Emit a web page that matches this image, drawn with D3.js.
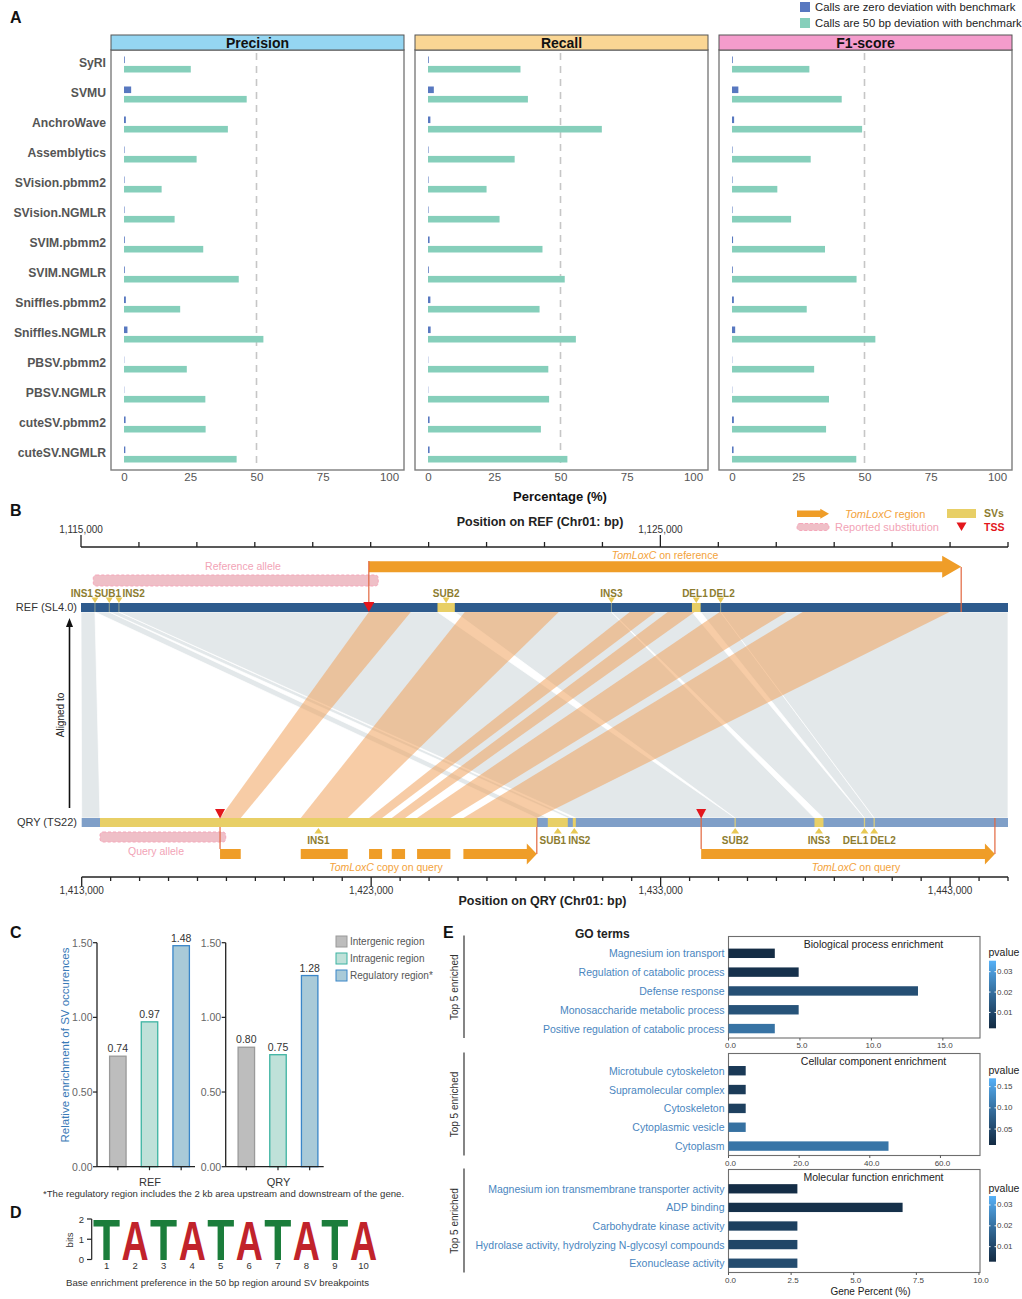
<!DOCTYPE html>
<html><head><meta charset="utf-8">
<script src="https://cdn.jsdelivr.net/npm/d3@7"></script>
<style>body{margin:0;background:#fff}svg{display:block}</style>
</head><body>
<script>
// ================= DATA =================
// Panel A
const tools = ["SyRI","SVMU","AnchroWave","Assemblytics","SVision.pbmm2","SVision.NGMLR","SVIM.pbmm2","SVIM.NGMLR","Sniffles.pbmm2","Sniffles.NGMLR","PBSV.pbmm2","PBSV.NGMLR","cuteSV.pbmm2","cuteSV.NGMLR"];
const metricNames = ["Precision","Recall","F1-score"];
const seriesKeys = ["zero","fifty"];
const seriesNames = ["Calls are zero deviation with benchmark","Calls are 50 bp deviation with benchmark"];
const precisionZero = [0.3,2.7,0.7,0.2,0.2,0.2,0.3,0.3,0.7,1.3,0.1,0.1,0.6,0.5];
const precision50   = [25.2,46.3,39.2,27.4,14.2,19.1,29.9,43.3,21.2,52.6,23.7,30.7,30.8,42.5];
const recallZero    = [0.3,2.2,0.9,0.2,0.2,0.2,0.6,0.3,0.9,1.0,0.1,0.1,0.6,0.6];
const recall50      = [34.9,37.7,65.6,32.7,22.1,27.0,43.2,51.6,42.1,55.8,45.4,45.7,42.6,52.6];
const f1Zero        = [0.3,2.4,0.8,0.2,0.2,0.2,0.4,0.3,0.7,1.2,0.1,0.1,0.7,0.6];
const f150          = [29.2,41.4,49.1,29.7,17.1,22.3,35.1,47.0,28.2,54.1,31.0,36.6,35.5,46.9];
const pctTicks = [0,25,50,75,100];
const refLine = 50;

// Panel B (genomic coordinates, bp)
const refDomain = [1115000,1131000];
const qryDomain = [1413000,1445000];
const refMajorTicks = [1115000,1125000];
const qryMajorTicks = [1413000,1423000,1433000,1443000];
const refSVs = [
  {name:"INS1",start:1115241,end:1115241},
  {name:"SUB1",start:1115488,end:1115488},
  {name:"INS2",start:1115655,end:1115655},
  {name:"SUB2",start:1121153,end:1121452},
  {name:"INS3",start:1124155,end:1124155},
  {name:"DEL1",start:1125545,end:1125695},
  {name:"DEL2",start:1126040,end:1126040}];
const qrySVs = [
  {name:"INS1",start:1413632,end:1428722},
  {name:"SUB1",start:1429102,end:1429793},
  {name:"INS2",start:1429966,end:1430070},
  {name:"SUB2",start:1435574,end:1435574},
  {name:"INS3",start:1438314,end:1438625},
  {name:"DEL1",start:1440042,end:1440042},
  {name:"DEL2",start:1440377,end:1440377}];
const refGene = [1119968,1130192];
const qryGene = [1434400,1444548];
const refTSS = [1119968];
const qryTSS = [1417779,1434400];
const refAllele = [1115212,1120130];
const qryAllele = [1413632,1417976];
const qryCopyBlocks = [[1417779,1418494],[1420567,1422191],[1422927,1423377],[1423712,1424171],[1424586,1425737],[1426186,1428722]];
// [refStart, refEnd, qryStart, qryEnd]
const grayBlocks = [
  [1115000,1115241,1413000,1413632],
  [1115241,1115488,1428722,1429102],
  [1115488,1115655,1429793,1429966],
  [1115655,1121153,1430070,1435574],
  [1121452,1124155,1435574,1438314],
  [1124155,1125545,1438625,1440042],
  [1125695,1126040,1440042,1440377],
  [1126040,1131000,1440377,1445000]];
const orangeBlocks = [
  [1119968,1120693,1417779,1418494],
  [1121624,1123246,1420567,1422191],
  [1124471,1124919,1422927,1423377],
  [1125126,1125592,1423712,1424171],
  [1126023,1127179,1424586,1425737],
  [1127455,1129991,1426186,1428722]];

// Panel C
const regions = ["Intergenic region","Intragenic region","Regulatory region*"];
const genomes = ["REF","QRY"];
const refEnrichment = [0.74,0.97,1.48];
const qryEnrichment = [0.80,0.75,1.28];
const enrichTicks = [0,0.5,1.0,1.5];

// Panel D
const logoLetters = ["T","A","T","A","T","A","T","A","T","A"];
const logoBits = [1.95,1.9,1.95,1.9,1.95,1.9,1.95,1.9,1.95,1.9];
const bitTicks = [0,1,2];

// Panel E
const goTitles = ["Biological process enrichment","Cellular component enrichment","Molecular function enrichment"];
const bpTerms = ["Magnesium ion transport","Regulation of catabolic process","Defense response","Monosaccharide metabolic process","Positive regulation of catabolic process"];
const bpPercent = [3.24,4.91,13.26,4.91,3.24];
const bpPvalue = [0.0025,0.0040,0.0120,0.0130,0.0210];
const ccTerms = ["Microtubule cytoskeleton","Supramolecular complex","Cytoskeleton","Cytoplasmic vesicle","Cytoplasm"];
const ccPercent = [4.87,4.87,4.87,4.87,45.3];
const ccPvalue = [0.031,0.033,0.040,0.099,0.104];
const mfTerms = ["Magnesium ion transmembrane transporter activity","ADP binding","Carbohydrate kinase activity","Hydrolase activity, hydrolyzing N-glycosyl compounds","Exonuclease activity"];
const mfPercent = [2.75,6.95,2.75,2.75,2.75];
const mfPvalue = [0.0034,0.0041,0.0082,0.0097,0.0113];
const bpTicks = [0,5,10,15];
const ccTicks = [0,20,40,60];
const mfTicks = [0,2.5,5,7.5,10];
const bpXMax = 17.6, ccXMax = 71.2, mfXMax = 10.04;
const bpPRange = [0.0022,0.0354], ccPRange = [0.0123,0.1698], mfPRange = [0.0028,0.0343];
const bpPTicks = [0.01,0.02,0.03], ccPTicks = [0.05,0.10,0.15], mfPTicks = [0.01,0.02,0.03];

// ================= DRAW =================
const FONT = '"Liberation Sans", Arial, Helvetica, sans-serif';
const svg = d3.select("body").append("svg").attr("width",1022).attr("height",1299)
  .attr("font-family",FONT);
svg.append("rect").attr("width",1022).attr("height",1299).attr("fill","#fff");

function txt(g,x,y,s,o={}){
  const t=g.append("text").attr("x",x).attr("y",y).text(s)
    .attr("font-size",o.size||10).attr("fill",o.fill||"#222")
    .attr("text-anchor",o.anchor||"start").attr("dominant-baseline","central");
  if(o.bold) t.attr("font-weight","bold");
  if(o.italic) t.attr("font-style","italic");
  if(o.rotate) t.attr("transform",`rotate(${o.rotate},${x},${y})`);
  return t;
}
function geneText(g,x,y,suffix,o={}){
  const t=g.append("text").attr("x",x).attr("y",y).attr("font-size",o.size||10.5)
    .attr("fill",o.fill||"#f3a23a").attr("text-anchor",o.anchor||"middle").attr("dominant-baseline","central");
  t.append("tspan").attr("font-style","italic").text("TomLoxC");
  t.append("tspan").text(suffix);
  return t;
}
function arrowPts(x0,x1,yc,bh,hh,hl){
  return [[x0,yc-bh/2],[x1-hl,yc-bh/2],[x1-hl,yc-hh/2],[x1,yc],[x1-hl,yc+hh/2],[x1-hl,yc+bh/2],[x0,yc+bh/2]].map(p=>p.join(",")).join(" ");
}
function placeLabels(xs,ws,pad){
  const pos=xs.slice();
  for(let it=0;it<200;it++){
    let moved=false;
    for(let i=1;i<pos.length;i++){
      const need=(ws[i-1]+ws[i])/2+pad, gap=pos[i]-pos[i-1];
      if(gap<need-0.01){const d=(need-gap)/2;pos[i-1]-=d;pos[i]+=d;moved=true;}
    }
    if(!moved)break;
  }
  return pos;
}

// ---------- PANEL A ----------
const gA=svg.append("g");
txt(gA,10,17,"A",{size:16,bold:true,fill:"#111"});
const zeroSeries=[precisionZero,recallZero,f1Zero];
const fiftySeries=[precision50,recall50,f150];
const seriesColor={zero:"#5878c0",fifty:"#86cfbb"};
const facetLeft=[111,415,719], facetW=293;
const facetFill=["#95d6f2","#fad694","#f49ccc"];
const rowBand=d3.scaleBand().domain(tools).range([50,470]);
const subBand=d3.scaleBand().domain(seriesKeys).range([-8.5,7.5]).paddingInner(0.3);
metricNames.forEach((m,i)=>{
  const L=facetLeft[i];
  const x=d3.scaleLinear().domain([0,100]).range([L+13,L+278]);
  gA.append("rect").attr("x",L).attr("y",50).attr("width",facetW).attr("height",420)
    .attr("fill","none").attr("stroke","#7d7d7d").attr("stroke-width",1.4);
  gA.append("rect").attr("x",L).attr("y",35).attr("width",facetW).attr("height",15)
    .attr("fill",facetFill[i]).attr("stroke","#555").attr("stroke-width",1);
  txt(gA,L+facetW/2,43,m,{size:14,bold:true,anchor:"middle",fill:"#111"});
  gA.append("line").attr("x1",x(refLine)).attr("x2",x(refLine)).attr("y1",53).attr("y2",468)
    .attr("stroke","#c6c6c6").attr("stroke-width",1.6).attr("stroke-dasharray","7,6");
  const rows=tools.map((t,j)=>({t,zero:zeroSeries[i][j],fifty:fiftySeries[i][j]}));
  seriesKeys.forEach(k=>{
    gA.selectAll(null).data(rows).join("rect")
      .attr("x",x(0)).attr("y",d=>rowBand(d.t)+rowBand.bandwidth()/2+subBand(k))
      .attr("width",d=>x(d[k])-x(0)).attr("height",subBand.bandwidth())
      .attr("fill",seriesColor[k]);
  });
  const ax=gA.append("g").attr("transform","translate(0,470)")
    .call(d3.axisBottom(x).tickValues(pctTicks).tickSize(0).tickPadding(3));
  ax.attr("font-family",FONT);
  ax.select(".domain").remove();
  ax.selectAll("text").attr("font-size",11.5).attr("fill","#555");
  if(i===0){
    tools.forEach(t=>txt(gA,106,rowBand(t)+rowBand.bandwidth()/2-2,t,{size:12.2,bold:true,anchor:"end",fill:"#555"}));
  }
});
txt(gA,560,496,"Percentage (%)",{size:13,bold:true,anchor:"middle",fill:"#111"});
seriesKeys.forEach((k,i)=>{
  gA.append("rect").attr("x",800).attr("y",2+16*i).attr("width",10).attr("height",10).attr("fill",seriesColor[k]);
  txt(gA,815,7+16*i,seriesNames[i],{size:11.3,fill:"#222"});
});

// ---------- PANEL B ----------
const gB=svg.append("g");
txt(gB,10,510,"B",{size:16,bold:true,fill:"#111"});
const refX=d3.scaleLinear().domain(refDomain).range([81,1008]);
const qryX=d3.scaleLinear().domain(qryDomain).range([81.7,1008]);
const REF_Y0=603, REF_Y1=612, QRY_Y0=818, QRY_Y1=827;
const ORANGE="#ef9d28", YELLOW="#e8cf66", OLIVE="#8c7c2f", PINKTXT="#f2a3b6", RED="#e3161c", TSSLINE="#e2673f";

function ribbon(b){return [[refX(b[0]),REF_Y1],[refX(b[1]),REF_Y1],[qryX(b[3]),QRY_Y0],[qryX(b[2]),QRY_Y0]].map(p=>p.join(",")).join(" ");}
gB.selectAll(null).data(grayBlocks).join("polygon").attr("points",ribbon)
  .attr("fill","#e3e8ea").attr("stroke","#fff").attr("stroke-width",0.7);
gB.selectAll(null).data(orangeBlocks).join("polygon").attr("points",ribbon)
  .attr("fill","#f0a25c").attr("fill-opacity",0.55);

// REF axis (top)
const refAxisY=547;
gB.append("line").attr("x1",refX(refDomain[0])).attr("x2",refX(refDomain[1])).attr("y1",refAxisY).attr("y2",refAxisY).attr("stroke","#222").attr("stroke-width",1.3);
gB.selectAll(null).data(d3.range(refDomain[0],refDomain[1]+1,1000)).join("line")
  .attr("x1",d=>refX(d)).attr("x2",d=>refX(d)).attr("y1",refAxisY)
  .attr("y2",d=>refMajorTicks.includes(d)?refAxisY-12:refAxisY-5).attr("stroke","#222").attr("stroke-width",1.3);
refMajorTicks.forEach(v=>txt(gB,refX(v),529,d3.format(",")(v),{size:10,anchor:"middle",fill:"#333"}));
txt(gB,540,522,"Position on REF (Chr01: bp)",{size:12.5,bold:true,anchor:"middle",fill:"#222"});

// QRY axis (bottom)
const qryAxisY=877;
gB.append("line").attr("x1",qryX(qryDomain[0])).attr("x2",qryX(qryDomain[1])).attr("y1",qryAxisY).attr("y2",qryAxisY).attr("stroke","#222").attr("stroke-width",1.3);
gB.selectAll(null).data(d3.range(qryDomain[0],qryDomain[1]+1,1000)).join("line")
  .attr("x1",d=>qryX(d)).attr("x2",d=>qryX(d)).attr("y1",qryAxisY)
  .attr("y2",d=>qryMajorTicks.includes(d)?qryAxisY+10:qryAxisY+4).attr("stroke","#222").attr("stroke-width",1.3);
qryMajorTicks.forEach(v=>txt(gB,qryX(v),890,d3.format(",")(v),{size:10,anchor:"middle",fill:"#333"}));
txt(gB,542.5,901,"Position on QRY (Chr01: bp)",{size:12.5,bold:true,anchor:"middle",fill:"#222"});

// chromosome bars
gB.append("rect").attr("x",refX(refDomain[0])).attr("y",REF_Y0).attr("width",refX(refDomain[1])-refX(refDomain[0])).attr("height",REF_Y1-REF_Y0).attr("fill","#2e5b8d");
gB.append("rect").attr("x",qryX(qryDomain[0])).attr("y",QRY_Y0).attr("width",qryX(qryDomain[1])-qryX(qryDomain[0])).attr("height",QRY_Y1-QRY_Y0).attr("fill","#7f9fc8");
txt(gB,77,607,"REF (SL4.0)",{size:11,anchor:"end",fill:"#333"});
txt(gB,77,822,"QRY (TS22)",{size:11,anchor:"end",fill:"#333"});

// Aligned to arrow
gB.append("line").attr("x1",69.5).attr("x2",69.5).attr("y1",808).attr("y2",626).attr("stroke","#111").attr("stroke-width",1.6);
gB.append("polygon").attr("points","66,627 73,627 69.5,618").attr("fill","#111");
txt(gB,60,715,"Aligned to",{size:10,anchor:"middle",fill:"#222",rotate:-90});

// alleles (reported substitution)
function alleleRect(x0,x1,y0,h){
  gB.append("rect").attr("x",x0).attr("y",y0).attr("width",x1-x0).attr("height",h).attr("rx",3)
    .attr("fill","#efbfc7").attr("stroke","#f5a7ba").attr("stroke-dasharray","3,2").attr("stroke-width",1);
}
alleleRect(refX(refAllele[0]),refX(refAllele[1]),575,11);
txt(gB,243,566,"Reference allele",{size:10.5,anchor:"middle",fill:PINKTXT});
alleleRect(qryX(qryAllele[0]),qryX(qryAllele[1]),832,10);
txt(gB,156,851,"Query allele",{size:10.5,anchor:"middle",fill:PINKTXT});

// REF gene arrow
gB.append("polygon").attr("points",arrowPts(refX(refGene[0]),refX(refGene[1]),566.7,11,22,19)).attr("fill",ORANGE);
geneText(gB,(refX(refGene[0])+refX(refGene[1]))/2,555," on reference",{size:10.5});
gB.append("line").attr("x1",refX(refGene[0])).attr("x2",refX(refGene[0])).attr("y1",561).attr("y2",603).attr("stroke",TSSLINE).attr("stroke-width",1.2);
gB.append("line").attr("x1",refX(refGene[1])).attr("x2",refX(refGene[1])).attr("y1",567).attr("y2",REF_Y1).attr("stroke",TSSLINE).attr("stroke-width",1.2);

// QRY gene copy blocks
qryCopyBlocks.forEach((b,i)=>{
  if(i<qryCopyBlocks.length-1){
    gB.append("rect").attr("x",qryX(b[0])).attr("y",849).attr("width",qryX(b[1])-qryX(b[0])).attr("height",10).attr("fill",ORANGE);
  } else {
    gB.append("polygon").attr("points",arrowPts(qryX(b[0]),qryX(b[1]),854,10,21,10)).attr("fill",ORANGE);
  }
});
geneText(gB,386,867," copy on query",{size:10.5});
gB.append("polygon").attr("points",arrowPts(qryX(qryGene[0]),qryX(qryGene[1]),854,10,21,10)).attr("fill",ORANGE);
geneText(gB,856,867," on query",{size:10.5});
[qryCopyBlocks[0][0],qryGene[0]].forEach(v=>gB.append("line").attr("x1",qryX(v)).attr("x2",qryX(v)).attr("y1",QRY_Y0).attr("y2",849).attr("stroke",TSSLINE).attr("stroke-width",1.2));
[qryCopyBlocks[qryCopyBlocks.length-1][1],qryGene[1]].forEach(v=>gB.append("line").attr("x1",qryX(v)).attr("x2",qryX(v)).attr("y1",QRY_Y0).attr("y2",854).attr("stroke",TSSLINE).attr("stroke-width",1.2));

// SVs on REF
refSVs.forEach(d=>{
  if(d.end>d.start){
    gB.append("rect").attr("x",refX(d.start)).attr("y",REF_Y0).attr("width",refX(d.end)-refX(d.start)).attr("height",REF_Y1-REF_Y0).attr("fill",YELLOW);
  } else {
    gB.append("line").attr("x1",refX(d.start)).attr("x2",refX(d.start)).attr("y1",REF_Y0).attr("y2",REF_Y1).attr("stroke","#8e9c8c").attr("stroke-width",1);
  }
  const cx=refX((d.start+d.end)/2);
  gB.append("polygon").attr("points",`${cx-3.5},597.5 ${cx+3.5},597.5 ${cx},603`).attr("fill","#e8c955");
});
{
  const ts=refSVs.map(d=>txt(gB,refX((d.start+d.end)/2),593,d.name,{size:10,bold:true,anchor:"middle",fill:OLIVE}));
  const ws=ts.map(t=>t.node().getComputedTextLength());
  const pos=placeLabels(refSVs.map(d=>refX((d.start+d.end)/2)),ws,1.5);
  ts.forEach((t,i)=>t.attr("x",pos[i]));
}
// SVs on QRY
qrySVs.forEach(d=>{
  if(qryX(d.end)-qryX(d.start)>1.5){
    gB.append("rect").attr("x",qryX(d.start)).attr("y",QRY_Y0).attr("width",qryX(d.end)-qryX(d.start)).attr("height",QRY_Y1-QRY_Y0).attr("fill",YELLOW);
  } else {
    gB.append("line").attr("x1",qryX(d.start)).attr("x2",qryX(d.start)).attr("y1",QRY_Y0).attr("y2",QRY_Y1).attr("stroke","#d8cb7e").attr("stroke-width",1.3);
  }
  const cx=qryX((d.start+d.end)/2);
  gB.append("polygon").attr("points",`${cx-4},833.5 ${cx+4},833.5 ${cx},828`).attr("fill","#e8c955");
});
{
  const ts=qrySVs.map(d=>txt(gB,qryX((d.start+d.end)/2),840,d.name,{size:10,bold:true,anchor:"middle",fill:OLIVE}));
  const ws=ts.map(t=>t.node().getComputedTextLength());
  const pos=placeLabels(qrySVs.map(d=>qryX((d.start+d.end)/2)),ws,2);
  ts.forEach((t,i)=>t.attr("x",pos[i]));
}
// TSS triangles
refTSS.forEach(v=>{const cx=refX(v);gB.append("polygon").attr("points",`${cx-5.5},602 ${cx+5.5},602 ${cx},612`).attr("fill",RED);});
qryTSS.forEach(v=>{const cx=qryX(v);gB.append("polygon").attr("points",`${cx-5},809 ${cx+5},809 ${cx},818.5`).attr("fill",RED);});

// legend B
gB.append("polygon").attr("points",arrowPts(797,829,513.7,6.5,10,8.7)).attr("fill",ORANGE);
geneText(gB,845,514," region",{size:11,anchor:"start",fill:"#f3a23a"});
gB.append("rect").attr("x",797).attr("y",523.5).attr("width",32).attr("height",7).attr("rx",3).attr("fill","#efbfc7").attr("stroke","#f5a7ba").attr("stroke-dasharray","3,2");
txt(gB,835,527,"Reported substitution",{size:11,fill:PINKTXT});
gB.append("rect").attr("x",947).attr("y",509).attr("width",29).attr("height",9).attr("fill",YELLOW);
txt(gB,984,513,"SVs",{size:10.5,bold:true,fill:OLIVE});
gB.append("polygon").attr("points","956.5,522.5 966.5,522.5 961.5,531").attr("fill",RED);
txt(gB,984,527,"TSS",{size:10.5,bold:true,fill:RED});

// ---------- PANEL C ----------
const gC=svg.append("g");
txt(gC,10,932,"C",{size:16,bold:true,fill:"#111"});
const yC=d3.scaleLinear().domain([0,1.5]).range([1166.7,942.7]);
const regionFill=["#bdbdbd","#bfe1d9","#a9cad8"];
const regionStroke=["#9a9a9a","#3db3a2","#3a86c8"];
const subAxisX=[97,225.7];
const subBandRange=[[102,197],[230.5,325.5]];
const enrich=[refEnrichment,qryEnrichment];
genomes.forEach((gname,gi)=>{
  const ax0=subAxisX[gi];
  const xb=d3.scaleBand().domain(regions).range(subBandRange[gi]).paddingInner(0.48).paddingOuter(0.24);
  regions.forEach((r,ri)=>{
    const v=enrich[gi][ri];
    gC.append("rect").attr("x",xb(r)).attr("y",yC(v)).attr("width",xb.bandwidth()).attr("height",yC(0)-yC(v))
      .attr("fill",regionFill[ri]).attr("stroke",regionStroke[ri]).attr("stroke-width",1.3);
    txt(gC,xb(r)+xb.bandwidth()/2,yC(v)-8,d3.format(".2f")(v),{size:10.5,anchor:"middle",fill:"#333"});
    gC.append("line").attr("x1",xb(r)+xb.bandwidth()/2).attr("x2",xb(r)+xb.bandwidth()/2).attr("y1",yC(0)).attr("y2",yC(0)+3.5).attr("stroke","#222").attr("stroke-width",1.2);
  });
  gC.append("line").attr("x1",ax0).attr("x2",ax0).attr("y1",yC(1.5)).attr("y2",yC(0)).attr("stroke","#222").attr("stroke-width",1.3);
  gC.append("line").attr("x1",ax0).attr("x2",ax0+98).attr("y1",yC(0)).attr("y2",yC(0)).attr("stroke","#222").attr("stroke-width",1.3);
  enrichTicks.forEach(t=>{
    gC.append("line").attr("x1",ax0-4).attr("x2",ax0).attr("y1",yC(t)).attr("y2",yC(t)).attr("stroke","#222").attr("stroke-width",1.2);
    txt(gC,ax0-4.5,yC(t),d3.format(".2f")(t),{size:10.5,anchor:"end",fill:"#666"});
  });
  txt(gC,(subBandRange[gi][0]+subBandRange[gi][1])/2+0.5,1182,gname,{size:11,anchor:"middle",fill:"#333"});
});
txt(gC,65,1045,"Relative enrichment of SV occurences",{size:11.5,anchor:"middle",fill:"#3a7ab7",rotate:-90});
regions.forEach((r,ri)=>{
  gC.append("rect").attr("x",336).attr("y",936+17*ri).attr("width",11).attr("height",11)
    .attr("fill",regionFill[ri]).attr("stroke",regionStroke[ri]).attr("stroke-width",1);
  txt(gC,350,941.5+17*ri,r,{size:10,fill:"#555"});
});
txt(gC,43,1193,"*The regulatory region includes the 2 kb area upstream and downstream of the gene.",{size:9.6,fill:"#333"});

// ---------- PANEL D ----------
const gD=svg.append("g");
txt(gD,10,1212,"D",{size:16,bold:true,fill:"#111"});
const xD=d3.scaleBand().domain(d3.range(1,11)).range([93,377]).paddingInner(0.05);
const yD=d3.scaleLinear().domain([0,2]).range([1259.5,1219]);
const letterColor={T:"#1b7d3b",A:"#c1232b"};
logoLetters.forEach((L,i)=>{
  const pos=i+1, h=yD(0)-yD(logoBits[i]);
  gD.append("text").attr("x",xD(pos)).attr("y",yD(0)).text(L)
    .attr("font-size",h/0.69).attr("font-weight","bold").attr("fill",letterColor[L])
    .attr("textLength",xD.bandwidth()).attr("lengthAdjust","spacingAndGlyphs");
});
logoLetters.forEach((L,i)=>txt(gD,xD(i+1)+xD.bandwidth()/2,1265,String(i+1),{size:9.5,anchor:"middle",fill:"#333"}));
gD.append("line").attr("x1",91.7).attr("x2",91.7).attr("y1",yD(2)).attr("y2",yD(0)).attr("stroke","#222").attr("stroke-width",1.2);
bitTicks.forEach(t=>{
  gD.append("line").attr("x1",87).attr("x2",91.7).attr("y1",yD(t)).attr("y2",yD(t)).attr("stroke","#222").attr("stroke-width",1.2);
  txt(gD,84,yD(t),String(t),{size:9.5,anchor:"end",fill:"#333"});
});
txt(gD,69,1240,"bits",{size:9.5,anchor:"middle",fill:"#333",rotate:-90});
txt(gD,66,1282,"Base enrichment preference in the 50 bp region around SV breakpoints",{size:9.6,fill:"#333"});

// ---------- PANEL E ----------
const gE=svg.append("g");
txt(gE,443,932,"E",{size:16,bold:true,fill:"#111"});
txt(gE,575,934,"GO terms",{size:12,bold:true,fill:"#222"});
const goData=[
  {terms:bpTerms,pct:bpPercent,p:bpPvalue,xMax:bpXMax,ticks:bpTicks,pRange:bpPRange,pTicks:bpPTicks},
  {terms:ccTerms,pct:ccPercent,p:ccPvalue,xMax:ccXMax,ticks:ccTicks,pRange:ccPRange,pTicks:ccPTicks},
  {terms:mfTerms,pct:mfPercent,p:mfPvalue,xMax:mfXMax,ticks:mfTicks,pRange:mfPRange,pTicks:mfPTicks}];
const goLayout=[
  {top:936.5,band:[943.9,1038],cbar:[960.7,1028.3]},
  {top:1053.5,band:[1061.3,1155.5],cbar:[1078.3,1145]},
  {top:1169.5,band:[1179.5,1272.5],cbar:[1196,1261.7]}];
const defs=svg.append("defs");
goData.forEach((D,gi)=>{
  const Ly=goLayout[gi];
  const x=d3.scaleLinear().domain([0,D.xMax]).range([728.5,980]);
  const y=d3.scaleBand().domain(D.terms).range(Ly.band).paddingInner(0.5).paddingOuter(0.25);
  const col=d3.scaleLinear().domain(D.pRange).range(["#132B43","#56B1F7"]).interpolate(d3.interpolateLab);
  const bottom=Ly.band[1];
  gE.append("rect").attr("x",728.5).attr("y",Ly.top).attr("width",980-728.5).attr("height",bottom-Ly.top)
    .attr("fill","none").attr("stroke","#6e6e6e").attr("stroke-width",1.1);
  txt(gE,873.5,Ly.top+7.5,goTitles[gi],{size:10.5,anchor:"middle",fill:"#222"});
  D.terms.forEach((t,i)=>{
    gE.append("rect").attr("x",x(0)).attr("y",y(t)).attr("width",x(D.pct[i])-x(0)).attr("height",y.bandwidth())
      .attr("fill",col(D.p[i]));
    txt(gE,724.5,y(t)+y.bandwidth()/2,t,{size:10.5,anchor:"end",fill:"#4a86c0"});
  });
  D.ticks.forEach(v=>{
    gE.append("line").attr("x1",x(v)).attr("x2",x(v)).attr("y1",bottom).attr("y2",bottom+2.5).attr("stroke","#555");
    txt(gE,x(v)+2,bottom+7.5,d3.format(".1f")(v),{size:8,anchor:"middle",fill:"#444"});
  });
  gE.append("line").attr("x1",464).attr("x2",464).attr("y1",Ly.top-1).attr("y2",bottom).attr("stroke","#666").attr("stroke-width",1.6);
  txt(gE,454,(Ly.top+bottom)/2,"Top 5 enriched",{size:10,anchor:"middle",fill:"#333",rotate:-90});
  const gid="cb"+gi;
  const lg=defs.append("linearGradient").attr("id",gid).attr("x1",0).attr("y1",1).attr("x2",0).attr("y2",0);
  d3.range(0,1.0001,0.1).forEach(f=>lg.append("stop").attr("offset",f).attr("stop-color",col(D.pRange[0]+f*(D.pRange[1]-D.pRange[0]))));
  const cb=d3.scaleLinear().domain(D.pRange).range([Ly.cbar[1],Ly.cbar[0]]);
  gE.append("rect").attr("x",989).attr("y",Ly.cbar[0]).attr("width",7).attr("height",Ly.cbar[1]-Ly.cbar[0]).attr("fill",`url(#${gid})`);
  D.pTicks.forEach(v=>{
    gE.append("line").attr("x1",989).attr("x2",990.5).attr("y1",cb(v)).attr("y2",cb(v)).attr("stroke","#fff");
    gE.append("line").attr("x1",994.5).attr("x2",996).attr("y1",cb(v)).attr("y2",cb(v)).attr("stroke","#fff");
    txt(gE,997,cb(v),d3.format(".2f")(v),{size:8,fill:"#444"});
  });
  txt(gE,988.5,Ly.cbar[0]-8.5,"pvalue",{size:10.5,fill:"#222"});
});
txt(gE,870.5,1291.5,"Gene Percent (%)",{size:10,anchor:"middle",fill:"#222"});
</script>
</body></html>
